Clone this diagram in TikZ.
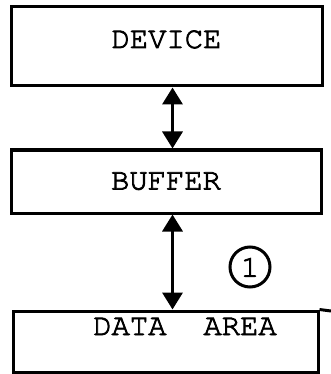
\documentclass[tikz,border=0pt]{standalone}
\usepackage[T1]{fontenc}
\renewcommand{\ttdefault}{pcr}
\usetikzlibrary{arrows.meta}
\newcommand{\inked}[1]{\special{pdf:literal direct 2 Tr 0.8 w}#1\special{pdf:literal direct 0 Tr}}

\begin{document}
\begin{tikzpicture}[x=1pt, y=-1pt]
\tikzset{box/.style={draw, line width=3pt, inner sep=0pt, text height=16pt, font=\ttfamily\fontsize{30.5}{36}\selectfont}}
\tikzset{word/.style={inner sep=0pt, text height=16pt, text depth=0pt, font=\ttfamily\fontsize{30.5}{36}\selectfont}}
\tikzset{link/.style={line width=3.5pt, {Triangle[length=17pt,width=20pt]}-{Triangle[length=17pt,width=20pt]}}}

\useasboundingbox (0,0) rectangle (331,374);

\node[box, minimum width=311pt, minimum height=79pt, text depth=13pt] (device) at (166.5,46.5) {\inked{DEVICE}};
\node[box, minimum width=310pt, minimum height=63pt, text depth=0pt] (buffer) at (166,181.5) {\inked{BUFFER}};
\node[box, minimum width=305pt, minimum height=61pt] (data) at (165.5,341.5) {};
\node[word] (datatext) at (185,327) {\inked{DATA\hspace{37pt}AREA}};
\node[draw, circle, line width=3pt, minimum size=40pt, inner sep=0pt, font=\ttfamily\fontsize{30.5}{36}\selectfont] (one) at (250,267) {\inked{1}};

\coordinate (edge) at (331,311);
\draw[line width=3pt] (data.north east) -- (edge);

\draw[link] ([xshift=6pt]device.south) -- ([xshift=6.5pt]buffer.north);
\draw[link] ([xshift=6.5pt]buffer.south) -- ([xshift=7pt]data.north);
\end{tikzpicture}
\end{document}
